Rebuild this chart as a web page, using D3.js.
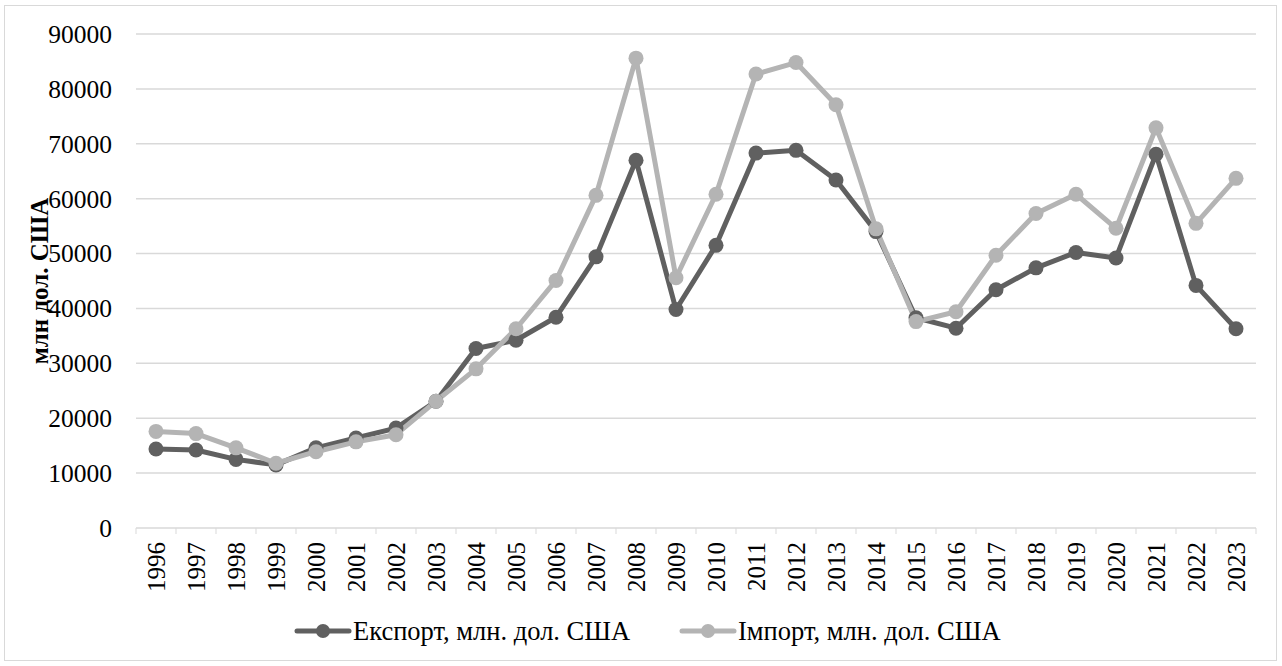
<!DOCTYPE html>
<html>
<head>
<meta charset="utf-8">
<script src="https://cdn.jsdelivr.net/npm/d3@7"></script>
<style>
  body { margin: 0; background: #fff; }
  svg text { font-family: "Liberation Serif", "Tinos", "Times New Roman", "DejaVu Serif", serif; fill: #000; }
</style>
</head>
<body>
<svg id="chart" width="1282" height="666"></svg>
<script>
"use strict";

// Data
var years = ["1996","1997","1998","1999","2000","2001","2002","2003","2004","2005",
  "2006","2007","2008","2009","2010","2011","2012","2013","2014","2015",
  "2016","2017","2018","2019","2020","2021","2022","2023"];
var exportVals = [14400, 14200, 12500, 11500, 14600, 16400, 18200, 23100, 32700, 34200,
  38400, 49400, 67000, 39800, 51500, 68300, 68800, 63400, 54000, 38300,
  36400, 43400, 47400, 50200, 49200, 68100, 44200, 36300];
var importVals = [17600, 17200, 14600, 11800, 13900, 15700, 17000, 23100, 29000, 36300,
  45100, 60600, 85600, 45600, 60800, 82700, 84800, 77100, 54500, 37600,
  39400, 49700, 57300, 60800, 54600, 72900, 55500, 63700];
var yTicks = [0, 10000, 20000, 30000, 40000, 50000, 60000, 70000, 80000, 90000];
var seriesNames = ["Експорт, млн. дол. США", "Імпорт, млн. дол. США"];
var seriesColors = ["#606060", "#b4b4b4"];

var margin = {top: 34, right: 26, bottom: 138, left: 136};
var width = 1282, height = 666;
var serif = "'Liberation Serif', Tinos, 'Times New Roman', 'DejaVu Serif', serif";

var svg = d3.select("#chart");

// outer frame
svg.append("rect")
  .attr("x", 4.5).attr("y", 5.5)
  .attr("width", 1272).attr("height", 655)
  .attr("fill", "none")
  .attr("stroke", "#d9d9d9")
  .attr("stroke-width", 1);

var x = d3.scaleBand()
  .domain(years)
  .range([margin.left, width - margin.right])
  .padding(0);

var y = d3.scaleLinear()
  .domain([0, 90000])
  .range([height - margin.bottom, margin.top]);

// gridlines
svg.append("g")
  .selectAll("line")
  .data(yTicks)
  .enter()
  .append("line")
    .attr("x1", margin.left)
    .attr("x2", width - margin.right)
    .attr("y1", d => y(d))
    .attr("y2", d => y(d))
    .attr("stroke", "#d9d9d9")
    .attr("stroke-width", 1.5);

// y tick labels
svg.append("g")
  .selectAll("text")
  .data(yTicks)
  .enter()
  .append("text")
    .attr("x", 112)
    .attr("y", d => y(d))
    .attr("dy", "0.35em")
    .attr("text-anchor", "end")
    .attr("font-family", serif)
    .attr("font-size", 25.5)
    .text(d => d);

// small x ticks at band edges
svg.append("g")
  .selectAll("line")
  .data(years.concat(["end"]))
  .enter()
  .append("line")
    .attr("x1", (d, i) => margin.left + i * x.bandwidth())
    .attr("x2", (d, i) => margin.left + i * x.bandwidth())
    .attr("y1", y(0))
    .attr("y2", y(0) + 6)
    .attr("stroke", "#d9d9d9")
    .attr("stroke-width", 1);

// x tick labels (rotated)
svg.append("g")
  .selectAll("text")
  .data(years)
  .enter()
  .append("text")
    .attr("transform", d => `translate(${x(d) + x.bandwidth()/2}, ${y(0) + 14}) rotate(-90)`)
    .attr("dy", "0.35em")
    .attr("text-anchor", "end")
    .attr("font-family", serif)
    .attr("font-size", 25)
    .text(d => d);

// y axis title
svg.append("text")
  .attr("transform", `translate(39, ${(y(0) + y(90000))/2}) rotate(-90)`)
  .attr("dy", "0.35em")
  .attr("text-anchor", "middle")
  .attr("font-family", serif)
  .attr("font-size", 25)
  .style("font-weight", "bold")
  .text("млн дол. США");

// lines and markers
var series = [exportVals, importVals];
var line = d3.line()
  .x((d, i) => x(years[i]) + x.bandwidth()/2)
  .y(d => y(d));

series.forEach(function(vals, k){
  svg.append("path")
    .datum(vals)
    .attr("fill", "none")
    .attr("stroke", seriesColors[k])
    .attr("stroke-width", 5)
    .attr("stroke-linejoin", "round")
    .attr("d", line);
});

series.forEach(function(vals, k){
  svg.append("g")
    .selectAll("circle")
    .data(vals)
    .enter()
    .append("circle")
      .attr("cx", (d, i) => x(years[i]) + x.bandwidth()/2)
      .attr("cy", d => y(d))
      .attr("r", 7.5)
      .attr("fill", seriesColors[k]);
});

// legend
var legendX = [297, 682];
var legend = svg.append("g").attr("class", "legend");
seriesNames.forEach(function(name, k){
  var g = legend.append("g").attr("transform", `translate(${legendX[k]}, 631)`);
  g.append("line")
    .attr("x1", 0).attr("x2", 52)
    .attr("y1", 0).attr("y2", 0)
    .attr("stroke", seriesColors[k])
    .attr("stroke-width", 5)
    .attr("stroke-linecap", "round");
  g.append("circle")
    .attr("cx", 26).attr("cy", 0).attr("r", 7)
    .attr("fill", seriesColors[k]);
  g.append("text")
    .attr("x", 56)
    .attr("y", 0)
    .attr("dy", "0.35em")
    .attr("font-family", serif)
    .attr("font-size", 26.5)
    .text(name);
});
</script>
</body>
</html>
